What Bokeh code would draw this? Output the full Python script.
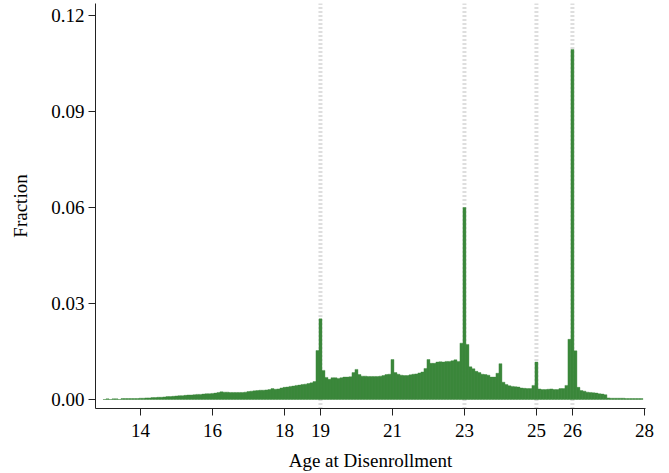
from bokeh.plotting import figure
from bokeh.models import Span, FixedTicker, NumeralTickFormatter, Range1d
from bokeh.embed import file_html
from bokeh.resources import INLINE

# Monthly bins (1/12 year), fraction of disenrollments, by year of age
first_age = 13
bins_per_year = 12
frac_13 = [0.0000, 0.0002, 0.0000, 0.0002, 0.0002, 0.0000, 0.0003, 0.0003, 0.0003, 0.0003, 0.0003, 0.0003]
frac_14 = [0.0004, 0.0004, 0.0005, 0.0005, 0.0006, 0.0006, 0.0007, 0.0007, 0.0008, 0.0009, 0.0009, 0.0010]
frac_15 = [0.0011, 0.0012, 0.0012, 0.0013, 0.0014, 0.0014, 0.0015, 0.0016, 0.0016, 0.0017, 0.0018, 0.0018]
frac_16 = [0.0019, 0.0020, 0.0022, 0.0024, 0.0023, 0.0023, 0.0022, 0.0022, 0.0022, 0.0022, 0.0022, 0.0023]
frac_17 = [0.0025, 0.0026, 0.0027, 0.0028, 0.0029, 0.0029, 0.0030, 0.0031, 0.0034, 0.0032, 0.0033, 0.0036]
frac_18 = [0.0038, 0.0039, 0.0041, 0.0042, 0.0044, 0.0045, 0.0047, 0.0048, 0.0050, 0.0052, 0.0056, 0.0153]
frac_19 = [0.0252, 0.0091, 0.0069, 0.0063, 0.0068, 0.0068, 0.0066, 0.0068, 0.0070, 0.0070, 0.0071, 0.0084]
frac_20 = [0.0094, 0.0078, 0.0073, 0.0073, 0.0072, 0.0072, 0.0072, 0.0072, 0.0073, 0.0075, 0.0078, 0.0079]
frac_21 = [0.0125, 0.0084, 0.0079, 0.0076, 0.0075, 0.0075, 0.0077, 0.0079, 0.0080, 0.0083, 0.0086, 0.0097]
frac_22 = [0.0125, 0.0113, 0.0113, 0.0117, 0.0118, 0.0117, 0.0119, 0.0119, 0.0121, 0.0124, 0.0119, 0.0176]
frac_23 = [0.0600, 0.0172, 0.0102, 0.0096, 0.0088, 0.0084, 0.0079, 0.0078, 0.0076, 0.0070, 0.0070, 0.0082]
frac_24 = [0.0112, 0.0054, 0.0047, 0.0043, 0.0041, 0.0040, 0.0039, 0.0036, 0.0035, 0.0034, 0.0034, 0.0044]
frac_25 = [0.0117, 0.0033, 0.0031, 0.0031, 0.0032, 0.0033, 0.0031, 0.0031, 0.0034, 0.0034, 0.0044, 0.0188]
frac_26 = [0.1094, 0.0152, 0.0038, 0.0028, 0.0026, 0.0023, 0.0022, 0.0021, 0.0020, 0.0018, 0.0017, 0.0015]
frac_27 = [0.0005, 0.0004, 0.0004, 0.0004, 0.0004, 0.0004, 0.0003, 0.0003, 0.0003, 0.0003, 0.0003, 0.0003]

ref_ages = [19, 23, 25, 26]
x_ticks = [14, 16, 18, 19, 21, 23, 25, 26, 28]
y_ticks = [0.0, 0.03, 0.06, 0.09, 0.12]

fractions = (frac_13 + frac_14 + frac_15 + frac_16 + frac_17 + frac_18 + frac_19 +
             frac_20 + frac_21 + frac_22 + frac_23 + frac_24 + frac_25 + frac_26 + frac_27)
ages = [first_age + i / bins_per_year for i in range(len(fractions))]

FONT = "Liberation Serif"
GREEN = "#3a873a"

p = figure(width=669, height=473, output_backend="svg", toolbar_location=None,
           x_range=Range1d(12.75, 28.03), y_range=Range1d(-0.0028125, 0.12375),
           min_border_left=95, min_border_right=24, min_border_top=3, min_border_bottom=65)

for a in ref_ages:
    p.add_layout(Span(location=a, dimension="height", line_color="#bdbdbd",
                      line_width=4, line_dash="1 3", level="underlay"))

p.vbar(x=ages, width=1 / bins_per_year, top=fractions, bottom=0,
       fill_color=GREEN, line_color=GREEN, line_width=0.4)

p.grid.visible = False
p.outline_line_color = None
p.background_fill_color = "white"
p.border_fill_color = "white"

p.xaxis.ticker = FixedTicker(ticks=x_ticks)
p.yaxis.ticker = FixedTicker(ticks=y_ticks)
p.yaxis.formatter = NumeralTickFormatter(format="0.00")
p.xaxis.minor_tick_line_color = None
p.yaxis.minor_tick_line_color = None

for ax in (p.xaxis, p.yaxis):
    ax.axis_line_color = "#222222"
    ax.major_tick_line_color = "#222222"
    ax.major_tick_out = 7
    ax.major_tick_in = 0
    ax.major_label_text_font = FONT
    ax.major_label_text_font_size = "19px"
    ax.major_label_text_color = "black"
    ax.axis_label_text_font = FONT
    ax.axis_label_text_font_size = "19px"
    ax.axis_label_text_font_style = "normal"
    ax.axis_label_text_color = "black"

p.xaxis.major_label_standoff = 8
p.yaxis.major_label_standoff = 4
p.xaxis.axis_label = "Age at Disenrollment"
p.yaxis.axis_label = "Fraction"
p.xaxis.axis_label_standoff = 10
p.yaxis.axis_label_standoff = 17
p.yaxis.major_label_orientation = "horizontal"

open("out.html", "w").write(file_html(p, INLINE))
